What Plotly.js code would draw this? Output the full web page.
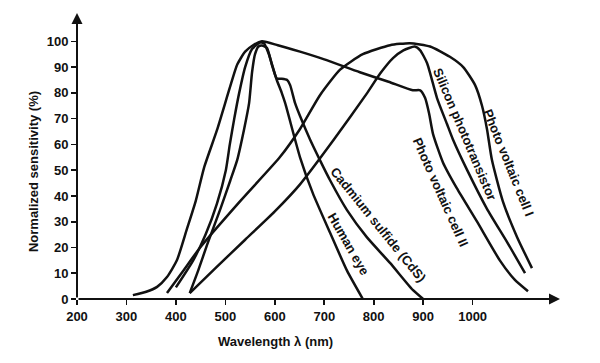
<!DOCTYPE html>
<html>
<head>
<meta charset="utf-8">
<script src="https://cdn.plot.ly/plotly-3.0.1.min.js"></script>
<style>html,body{margin:0;padding:0;background:#fff;}#chart{width:600px;height:363px;}</style>
</head>
<body>
<div id="chart"></div>
<script>
// ---- data (wavelength in nm, normalized sensitivity in %) ----
const cell1Wave = [382, 415, 449, 530, 610, 651, 691, 732, 778, 833, 873, 914, 954, 981, 1005, 1019, 1029, 1039, 1061, 1090, 1120];
const cell1Sens = [2.3, 11, 20, 38, 55, 66, 79, 89, 95, 98.5, 99.3, 98, 94, 90, 83, 75, 66, 54, 38, 24, 12];

const siliconWave = [428, 480, 540, 600, 651, 718, 787, 813, 839, 860, 883, 894, 908, 928, 948, 960, 989, 1029, 1070, 1106];
const siliconSens = [2.3, 12, 23, 34, 44.5, 61.5, 80, 87.5, 93.5, 96.5, 98, 96.5, 91.5, 78, 68, 62, 50, 35, 22, 10];

const cell2Wave = [313, 340, 362, 382, 402, 422, 440, 457, 483, 509, 524, 540, 556, 574, 606, 651, 700, 772, 830, 879, 894, 904, 912, 920, 940, 968, 1009, 1055, 1085, 1112];
const cell2Sens = [1.5, 2.8, 4.7, 8.5, 15, 27, 38, 51, 65.5, 82, 91, 96, 98.5, 100, 98.5, 96, 93, 88, 84.3, 81, 81, 78, 72, 64, 53, 43, 30, 15, 7.5, 3];

const cdsWave = [400, 435, 460, 483, 501, 509, 518, 528, 540, 554, 570, 578, 588, 596, 604, 614, 625, 631, 641, 651, 671, 691, 712, 746, 786, 833, 879, 900];
const cdsSens = [4.5, 15, 25, 37, 50, 60, 70, 80, 90, 97, 99.5, 99.3, 95, 90, 85.6, 85.5, 85, 83, 76, 71, 62, 54, 46, 34.5, 24, 14, 3.5, 0];

const eyeWave = [428, 445, 463, 490, 510, 524, 538, 548, 554, 560, 567, 574, 584, 594, 604, 614, 621, 651, 677, 712, 746, 778];
const eyeSens = [2.3, 11, 21, 35, 46, 54, 66, 76, 88, 95, 98, 98.4, 97.5, 91, 85, 80, 76, 55, 41, 25.6, 11, 0];

const xTicks = [200, 300, 400, 500, 600, 700, 800, 900, 1000];
const yTicks = [0, 10, 20, 30, 40, 50, 60, 70, 80, 90, 100];

const seriesNames = ['Photo voltaic cell I', 'Silicon phototransistor', 'Photo voltaic cell II', 'Cadmium sulfide (CdS)', 'Human eye'];

// ---- figure ----
const INK = '#111111';
const FONT = 'Liberation Sans, Arial, sans-serif';
const XR = [200, 1176.7];
const YR = [0, 111];

function curve(x, y, name) {
  return {x: x, y: y, name: name, type: 'scatter', mode: 'lines',
          line: {color: INK, width: 2.5, shape: 'spline', smoothing: 0.55},
          hoverinfo: 'skip', showlegend: false, cliponaxis: false};
}

const traces = [
  curve(cell1Wave, cell1Sens, seriesNames[0]),
  curve(siliconWave, siliconSens, seriesNames[1]),
  curve(cell2Wave, cell2Sens, seriesNames[2]),
  curve(cdsWave, cdsSens, seriesNames[3]),
  curve(eyeWave, eyeSens, seriesNames[4])
];

const tickFont = {family: FONT, size: 13, color: INK, weight: 'bold'};
const labelFont = {family: FONT, size: 13, color: INK, weight: 'bold'};

function curveLabel(text, x, y, angle) {
  return {text: text, x: x, y: y, xref: 'x', yref: 'y', showarrow: false,
          textangle: angle, font: labelFont, xanchor: 'center', yanchor: 'middle'};
}

const layout = {
  width: 600, height: 363,
  margin: {l: 77, r: 40, t: 13, b: 64},
  paper_bgcolor: '#ffffff', plot_bgcolor: '#ffffff',
  showlegend: false,
  xaxis: {range: XR, tickvals: xTicks, ticktext: xTicks.map(String), ticks: 'outside', ticklen: 5,
          tickwidth: 1.6, tickcolor: INK, showgrid: false, zeroline: false, showline: false,
          tickfont: tickFont, fixedrange: true},
  yaxis: {range: YR, tickvals: yTicks, ticktext: yTicks.map(String), ticks: 'outside', ticklen: 5,
          tickwidth: 1.6, tickcolor: INK, showgrid: false, zeroline: false, showline: false,
          tickfont: tickFont, fixedrange: true},
  xaxis2: {range: XR, overlaying: 'x', anchor: 'y', side: 'bottom', tickvals: xTicks, ticks: 'inside',
           ticklen: 4, tickwidth: 1.6, tickcolor: INK, showticklabels: false, showgrid: false,
           zeroline: false, showline: false, fixedrange: true},
  yaxis2: {range: YR, overlaying: 'y', anchor: 'x', side: 'left', tickvals: yTicks, ticks: 'inside',
           ticklen: 6, tickwidth: 1.6, tickcolor: INK, showticklabels: false, showgrid: false,
           zeroline: false, showline: false, fixedrange: true},
  annotations: [
    // axis lines with arrowheads
    {x: XR[1], y: 0, xref: 'x', yref: 'y', ax: XR[0], ay: 0, axref: 'x', ayref: 'y', text: '',
     showarrow: true, arrowhead: 2, arrowsize: 1.1, arrowwidth: 2, arrowcolor: INK},
    {x: XR[0], y: YR[1], xref: 'x', yref: 'y', ax: XR[0], ay: 0, axref: 'x', ayref: 'y', text: '',
     showarrow: true, arrowhead: 2, arrowsize: 1.1, arrowwidth: 2, arrowcolor: INK},
    // axis titles
    {text: 'Wavelength λ (nm)', x: 0.41, y: -0.15, xref: 'paper', yref: 'paper', showarrow: false,
     font: labelFont, xanchor: 'center', yanchor: 'middle'},
    {text: 'Normalized sensitivity (%)', x: -0.091, y: 0.444, xref: 'paper', yref: 'paper', showarrow: false,
     textangle: -90, font: labelFont, xanchor: 'center', yanchor: 'middle'},
    // curve labels
    curveLabel(seriesNames[0], 1072, 52.8, 68),
    curveLabel(seriesNames[1], 985, 64, 67),
    curveLabel(seriesNames[2], 936, 41.5, 66),
    curveLabel(seriesNames[3], 809, 29, 51),
    curveLabel(seriesNames[4], 750, 21.3, 60)
  ]
};

Plotly.newPlot('chart', traces, layout, {staticPlot: true, displayModeBar: false});
</script>
</body>
</html>
